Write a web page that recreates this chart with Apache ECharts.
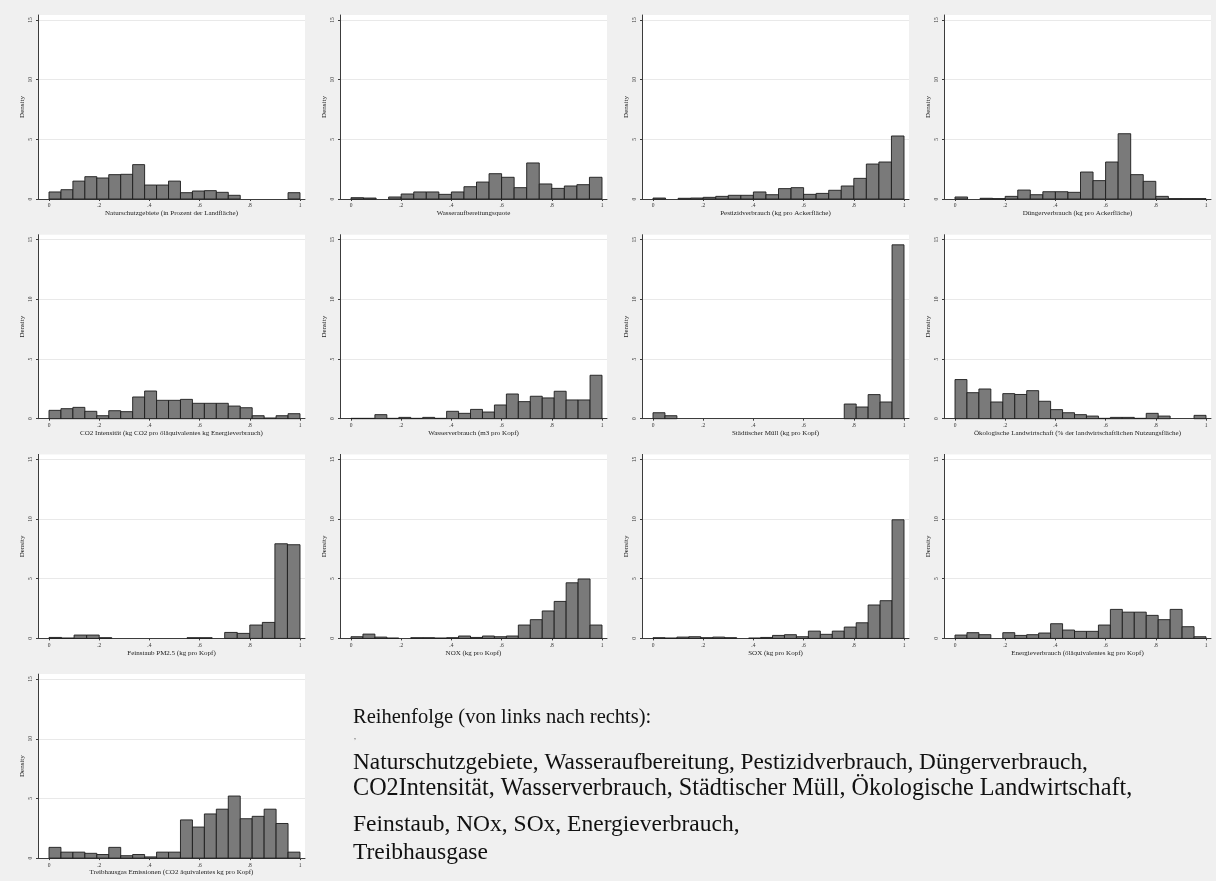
<!DOCTYPE html>
<html><head><meta charset="utf-8">
<script src="https://cdn.jsdelivr.net/npm/echarts@6/dist/echarts.min.js"></script>
<style>html,body{margin:0;padding:0;background:#f0f0f0}#c{width:1216px;height:881px}</style>
</head><body><div id="c"></div>
<script>
// Density values per bin (bins span 0..1 evenly)
const naturschutz = [0.59,0.78,1.5,1.87,1.76,2.04,2.07,2.88,1.17,1.17,1.5,0.53,0.67,0.7,0.56,0.31,0,0,0,0,0.53];
const wasseraufbereitung = [0.11,0.08,0,0.17,0.42,0.59,0.59,0.39,0.59,1.03,1.42,2.12,1.82,0.95,3.02,1.26,0.89,1.09,1.2,1.82];
const pestizid = [0.08,0,0.06,0.08,0.14,0.22,0.31,0.31,0.59,0.36,0.87,0.95,0.39,0.47,0.73,1.09,1.73,2.93,3.1,5.28];
const duenger = [0.17,0,0.06,0.03,0.22,0.75,0.36,0.61,0.61,0.56,2.26,1.54,3.1,5.47,2.04,1.48,0.22,0.03,0.03,0.03];
const co2 = [0.7,0.84,0.95,0.62,0.25,0.67,0.59,1.82,2.32,1.54,1.54,1.62,1.29,1.29,1.29,1.06,0.92,0.25,0.06,0.25,0.42];
const wasserverbrauch = [0.03,0.03,0.34,0.03,0.11,0.03,0.11,0.03,0.62,0.45,0.78,0.56,1.15,2.07,1.43,1.88,1.74,2.3,1.57,1.57,3.64];
const muell = [0.5,0.25,0,0,0,0,0,0,0,0,0,0,0,0,0,0,1.23,0.98,2.02,1.4,14.57];
const oekologisch = [3.28,2.18,2.49,1.4,2.1,2.03,2.35,1.46,0.76,0.5,0.34,0.22,0.03,0.11,0.11,0.03,0.45,0.22,0,0,0.28];
const feinstaub = [0.08,0.03,0.28,0.28,0.06,0,0,0,0,0,0,0.06,0.06,0,0.5,0.42,1.12,1.34,7.93,7.85];
const nox = [0.14,0.36,0.11,0.03,0,0.06,0.06,0.03,0.06,0.2,0.08,0.2,0.14,0.2,1.12,1.57,2.3,3.1,4.66,4.98,1.12];
const sox = [0.06,0.03,0.11,0.14,0.06,0.11,0.06,0,0.03,0.08,0.25,0.31,0.14,0.61,0.34,0.61,0.95,1.31,2.8,3.16,9.94];
const energie = [0.28,0.48,0.31,0,0.48,0.25,0.31,0.45,1.23,0.7,0.59,0.59,1.12,2.43,2.2,2.2,1.93,1.57,2.43,0.98,0.14];
const treibhaus = [0.9,0.5,0.5,0.4,0.3,0.9,0.2,0.3,0.1,0.5,0.5,3.2,2.6,3.7,4.1,5.2,3.3,3.5,4.1,2.9,0.5];

const panelData = [naturschutz, wasseraufbereitung, pestizid, duenger, co2, wasserverbrauch, muell, oekologisch, feinstaub, nox, sox, energie, treibhaus];
const titles = [
  'Naturschutzgebiete (in Prozent der Landfläche)',
  'Wasseraufbereitungsquote',
  'Pestizidverbrauch (kg pro Ackerfläche)',
  'Düngerverbrauch (kg pro Ackerfläche)',
  'CO2 Intensität (kg CO2 pro öläquivalentes kg Energieverbrauch)',
  'Wasserverbrauch (m3 pro Kopf)',
  'Städtischer Müll (kg pro Kopf)',
  'Ökologische Landwirtschaft (% der landwirtschaftlichen Nutzungsfläche)',
  'Feinstaub PM2.5 (kg pro Kopf)',
  'NOX (kg pro Kopf)',
  'SOX (kg pro Kopf)',
  'Energieverbrauch (öläquivalentes kg pro Kopf)',
  'Treibhausgas Emissionen (CO2 äquivalentes kg pro Kopf)'
];
const xTicks = [0, 0.2, 0.4, 0.6, 0.8, 1];
const xTickLabels = ['0', '.2', '.4', '.6', '.8', '1'];
const yTicks = [0, 5, 10, 15];
const yTickLabels = ['0', '5', '10', '15'];
const yLabelName = 'Density';

const headingLine = 'Reihenfolge (von links nach rechts):';
const bodyLines = [
  'Naturschutzgebiete, Wasseraufbereitung, Pestizidverbrauch, Düngerverbrauch,',
  'CO2Intensität, Wasserverbrauch, Städtischer Müll, Ökologische Landwirtschaft,',
  'Feinstaub, NOx, SOx, Energieverbrauch,',
  'Treibhausgase'
];

const FONT = '"Liberation Serif", "Times New Roman", serif';
const chart = echarts.init(document.getElementById('c'), null, {renderer: 'canvas'});

const grids = [], xAxes = [], yAxes = [], series = [];
const dataW = 251, padL = 11, padR = 5, plotH = 184, span15 = 179;
panelData.forEach((vals, i) => {
  const r = Math.floor(i / 4), c = i % 4;
  const data0 = 49 + 302 * c;
  const y0 = 199 + 219.7 * r;
  grids.push({left: data0 - padL, top: y0 - plotH, width: dataW + padL + padR, height: plotH,
    show: true, backgroundColor: '#ffffff', borderWidth: 0, containLabel: false});
  xAxes.push({
    type: 'value', gridIndex: i, min: -padL / dataW, max: 1 + padR / dataW,
    axisLine: {show: true, onZero: false, lineStyle: {color: '#3c3c3c', width: 1}},
    axisTick: {show: true, length: 2, customValues: xTicks, lineStyle: {color: '#3c3c3c'}},
    axisLabel: {show: true, customValues: xTicks, fontSize: 5.5, fontFamily: FONT, color: '#333', margin: 4,
      formatter: v => { const k = xTicks.findIndex(t => Math.abs(t - v) < 1e-6); return k >= 0 ? xTickLabels[k] : ''; }},
    splitLine: {show: false},
    name: titles[i], nameLocation: 'middle', nameGap: 11,
    nameTextStyle: {fontSize: 7, fontFamily: FONT, color: '#222'}
  });
  yAxes.push({
    type: 'value', gridIndex: i, min: 0, max: 15 * plotH / span15,
    axisLine: {show: true, onZero: false, lineStyle: {color: '#3c3c3c', width: 1}},
    axisTick: {show: true, length: 2, customValues: yTicks, lineStyle: {color: '#3c3c3c'}},
    axisLabel: {show: true, customValues: yTicks, rotate: 90, fontSize: 5.5, fontFamily: FONT, color: '#333', margin: 4,
      formatter: v => { const k = yTicks.findIndex(t => Math.abs(t - v) < 1e-6); return k >= 0 ? yTickLabels[k] : ''; }},
    splitLine: {show: true, lineStyle: {color: '#e9e9e9', width: 1}},
    name: yLabelName, nameLocation: 'middle', nameRotate: 90, nameGap: 12,
    nameTextStyle: {fontSize: 7, fontFamily: FONT, color: '#222'}
  });
  const n = vals.length;
  series.push({
    type: 'custom', xAxisIndex: i, yAxisIndex: i, silent: true, animation: false,
    data: vals.map((v, k) => [k / n, (k + 1) / n, v]),
    encode: {x: [0, 1], y: 2},
    renderItem: (params, api) => {
      const h = api.value(2);
      if (!(h > 0)) return null;
      const a = api.coord([api.value(0), 0]);
      const b = api.coord([api.value(1), h]);
      return {type: 'rect', shape: {x: a[0], y: b[1], width: b[0] - a[0], height: a[1] - b[1]},
        style: {fill: '#7a7a7a', stroke: '#1c1c1c', lineWidth: 0.9}};
    }
  });
});

const graphics = [{
  type: 'text', left: 353, top: 707, silent: true,
  style: {text: headingLine, font: '20.5px ' + FONT, fill: '#111'}
}];
const bodyTops = [751, 777, 813, 841];
const bodySizes = [23.3, 24.2, 23.5, 23.5];
bodyLines.forEach((t, k) => graphics.push({
  type: 'text', left: 353, top: bodyTops[k], silent: true,
  style: {text: t, font: bodySizes[k] + 'px ' + FONT, fill: '#111'}
}));
graphics.push({type: 'text', left: 354, top: 733, silent: true, style: {text: ',', font: '8px ' + FONT, fill: '#444'}});

chart.setOption({
  backgroundColor: '#f0f0f0',
  animation: false,
  grid: grids, xAxis: xAxes, yAxis: yAxes, series: series,
  graphic: graphics
});
</script></body></html>
